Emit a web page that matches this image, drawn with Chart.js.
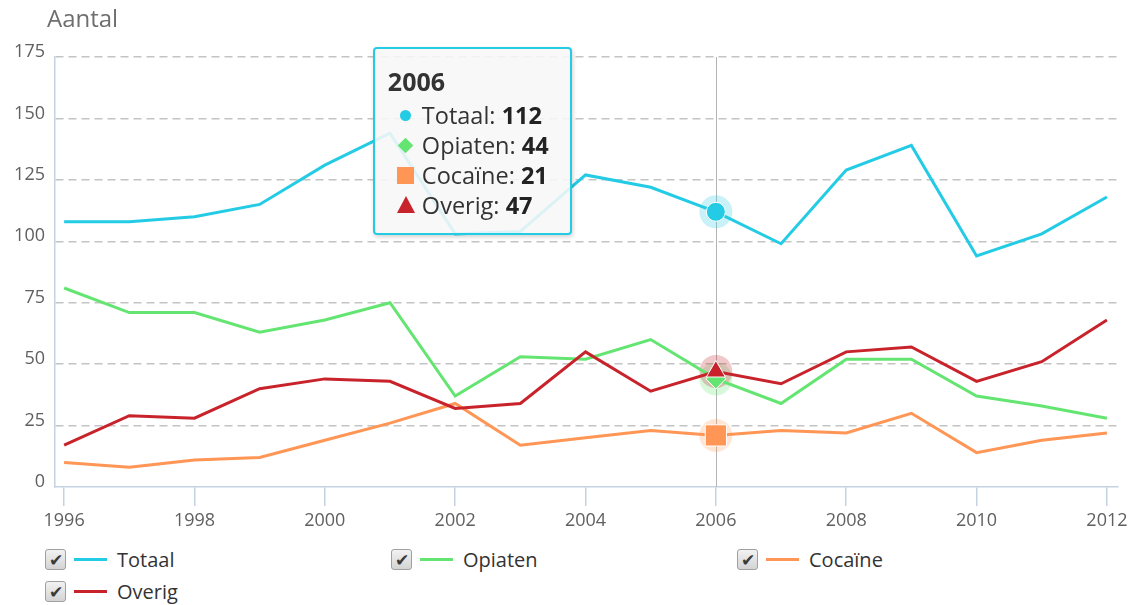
<!DOCTYPE html>
<html>
<head>
<meta charset="utf-8">
<title>Aantal per jaar</title>
<script src="https://cdn.jsdelivr.net/npm/chart.js@4.4.1/dist/chart.umd.min.js"></script>
<style>
  body { margin: 0; background: #fff; font-family: "Open Sans", sans-serif; }
  #wrap { position: relative; width: 1140px; height: 605px; overflow: hidden; }
  #chart { position: absolute; left: 0; top: 0; }
  .axis-title { position: absolute; left: 47px; top: 1px; font-size: 24px; color: #6f6f6f; }

  #tip {
    position: absolute; display: none; box-sizing: border-box;
    width: 199px; height: 188px; padding: 17px 0 0 0;
    background: rgba(247, 247, 247, 0.88);
    border: 2px solid #24cbe5; border-radius: 4px;
    box-shadow: 1px 2px 4px rgba(0, 0, 0, 0.18);
    color: #333; font-size: 23.5px; pointer-events: none;
  }
  #tip .tt-title { font-weight: bold; font-size: 25px; line-height: 30px; padding-left: 13px; margin-bottom: 4px; }
  #tip .tt-row { height: 30px; line-height: 30px; padding-left: 20px; white-space: nowrap; }
  #tip .tt-sym { display: inline-block; width: 22px; height: 30px; margin-right: 5px; vertical-align: top; position: relative; }
  #tip .tt-sym i { position: absolute; left: 50%; top: 50%; display: block; }
  #tip b { color: #222; }

  #legend { position: absolute; left: 0; top: 546px; width: 1140px; height: 59px; }
  .lg-item { position: absolute; height: 26px; display: flex; align-items: center; font-size: 20px; color: #333; }
  .lg-box {
    width: 19px; height: 19px; border: 1px solid #a0a0a0; border-radius: 3px;
    background: linear-gradient(#f2f2f2, #d4d4d4); color: #3a3a3a;
    font-size: 17px; line-height: 19px; text-align: center; margin-right: 8px;
  }
  .lg-line { width: 33px; height: 3px; margin-right: 10px; }
</style>
</head>
<body>
<div id="wrap">
  <canvas id="chart" width="1140" height="540"></canvas>
  <div class="axis-title">Aantal</div>
  <div id="tip"></div>
  <div id="legend"></div>
</div>
<script>
const years = [1996, 1997, 1998, 1999, 2000, 2001, 2002, 2003, 2004, 2005, 2006, 2007, 2008, 2009, 2010, 2011, 2012];
const totaal = [108, 108, 110, 115, 131, 144, 103, 104, 127, 122, 112, 99, 129, 139, 94, 103, 118];
const opiaten = [81, 71, 71, 63, 68, 75, 37, 53, 52, 60, 44, 34, 52, 52, 37, 33, 28];
const cocaine = [10, 8, 11, 12, 19, 26, 34, 17, 20, 23, 21, 23, 22, 30, 14, 19, 22];
const overig = [17, 29, 28, 40, 44, 43, 32, 34, 55, 39, 47, 42, 55, 57, 43, 51, 68];
const seriesNames = ['Totaal', 'Opiaten', 'Cocaïne', 'Overig'];
const seriesColors = ['#24cbe5', '#64e572', '#ff9655', '#c8232b'];
const yTicks = [0, 25, 50, 75, 100, 125, 150, 175];
const xTicks = [1996, 1998, 2000, 2002, 2004, 2006, 2008, 2010, 2012];
const focusYear = 2006;

const seriesData = [totaal, opiaten, cocaine, overig];
const markers = ['circle', 'rectRot', 'rect', 'triangle'];
const markerSize = [9.5, 10, 15, 11];

function rgba(hex, a) {
  const n = parseInt(hex.slice(1), 16);
  return `rgba(${n >> 16}, ${(n >> 8) & 255}, ${n & 255}, ${a})`;
}

Chart.defaults.font.family = "'Open Sans', sans-serif";
Chart.defaults.font.size = 18;
Chart.defaults.color = '#606060';

// vertical line through the hovered year
const crosshair = {
  id: 'crosshair',
  beforeDatasetsDraw(chart) {
    const act = chart.tooltip.getActiveElements();
    if (!act.length) return;
    const { ctx, chartArea } = chart;
    const x = Math.round(act[0].element.x) + 0.5;
    ctx.save();
    ctx.strokeStyle = '#b4b4b4';
    ctx.lineWidth = 1;
    ctx.beginPath();
    ctx.moveTo(x, chartArea.top);
    ctx.lineTo(x, chartArea.bottom);
    ctx.stroke();
    // soft halo behind each hovered marker
    act.forEach(a => {
      const c = seriesColors[a.datasetIndex];
      ctx.fillStyle = rgba(c, 0.25);
      ctx.beginPath();
      ctx.arc(a.element.x, a.element.y, 16.5, 0, Math.PI * 2);
      ctx.fill();
    });
    ctx.restore();
  }
};

const shapeCss = {
  circle: c => `<i style="width:11px;height:11px;margin:-5.5px 0 0 -5.5px;border-radius:50%;background:${c}"></i>`,
  rectRot: c => `<i style="width:11px;height:11px;margin:-5.5px 0 0 -5.5px;transform:rotate(45deg);background:${c}"></i>`,
  rect: c => `<i style="width:17px;height:17px;margin:-8.5px 0 0 -8.5px;background:${c}"></i>`,
  triangle: c => `<i style="width:0;height:0;margin:-9px 0 0 -9px;border-left:9px solid transparent;border-right:9px solid transparent;border-bottom:17px solid ${c}"></i>`
};

function renderTooltip({ chart, tooltip }) {
  const el = document.getElementById('tip');
  if (tooltip.opacity === 0) { el.style.display = 'none'; return; }
  const pts = tooltip.dataPoints.slice().sort((a, b) => a.datasetIndex - b.datasetIndex);
  let html = `<div class="tt-title">${tooltip.title[0]}</div>`;
  pts.forEach(p => {
    const ds = p.dataset;
    html += `<div class="tt-row"><span class="tt-sym">${shapeCss[ds.pointStyle](ds.borderColor)}</span>` +
            `${ds.label}: <b>${p.formattedValue}</b></div>`;
  });
  el.innerHTML = html;
  el.style.borderColor = pts[0].dataset.borderColor;
  el.style.left = (tooltip.caretX - 343) + 'px';
  el.style.top = (chart.chartArea.top - 10) + 'px';
  el.style.display = 'block';
}

const drawOrder = [3, 2, 1, 0];

const chart = new Chart(document.getElementById('chart'), {
  type: 'line',
  data: {
    datasets: seriesNames.map((name, i) => ({
      label: name,
      data: years.map((y, j) => ({ x: y, y: seriesData[i][j] })),
      borderColor: seriesColors[i],
      backgroundColor: seriesColors[i],
      borderWidth: 3,
      tension: 0,
      order: drawOrder[i],
      pointStyle: markers[i],
      pointRadius: 0,
      pointHoverRadius: markerSize[i],
      pointHoverBorderWidth: 1,
      pointHoverBorderColor: '#ffffff',
      pointHoverBackgroundColor: seriesColors[i]
    }))
  },
  options: {
    responsive: false,
    animation: false,
    events: [],
    layout: { padding: { top: 57, right: 22, left: 0, bottom: 0 } },
    interaction: { mode: 'index', intersect: false },
    scales: {
      x: {
        type: 'linear',
        min: 1995.86,
        max: 2012.17,
        afterBuildTicks: s => { s.ticks = xTicks.map(v => ({ value: v })); },
        afterFit: s => { s.height = 53; },
        grid: { drawOnChartArea: false, drawTicks: true, tickLength: 19, color: '#c4d2e2', lineWidth: 1.5 },
        border: { color: '#c4d2e2', width: 1.5 },
        ticks: { padding: 4, maxRotation: 0, autoSkip: false, callback: v => String(v) }
      },
      y: {
        min: 0,
        max: 175,
        afterBuildTicks: s => { s.ticks = yTicks.map(v => ({ value: v })); },
        afterFit: s => { s.width = 55; },
        grid: {
          drawTicks: false,
          color: c => (c.tick && c.tick.value === 0 ? 'rgba(0,0,0,0)' : '#c4c4c4'),
          lineWidth: 1.5
        },
        border: { color: '#c4d2e2', width: 1.5, dash: [8, 5] },
        ticks: { padding: 10, labelOffset: -5 }
      }
    },
    plugins: {
      legend: { display: false },
      tooltip: {
        enabled: false,
        external: renderTooltip,
        callbacks: { title: items => String(items[0].parsed.x) }
      }
    }
  },
  plugins: [crosshair]
});

// legend with check boxes, built from the datasets
const legendCols = [45, 391, 737];
const legend = document.getElementById('legend');
chart.data.datasets.forEach((ds, i) => {
  const item = document.createElement('div');
  item.className = 'lg-item';
  item.style.left = legendCols[i % 3] + 'px';
  item.style.top = (Math.floor(i / 3) * 32) + 'px';
  item.innerHTML = `<span class="lg-box">&#10004;</span>` +
    `<span class="lg-line" style="background:${ds.borderColor}"></span>${ds.label}`;
  legend.appendChild(item);
});

// show the shared tooltip for the focus year
const idx = years.indexOf(focusYear);
const active = chart.data.datasets.map((d, i) => ({ datasetIndex: i, index: idx }));
chart.setActiveElements(active);
const el0 = chart.getDatasetMeta(0).data[idx];
chart.tooltip.setActiveElements(active, { x: el0.x, y: el0.y });
chart.update();
</script>
</body>
</html>
